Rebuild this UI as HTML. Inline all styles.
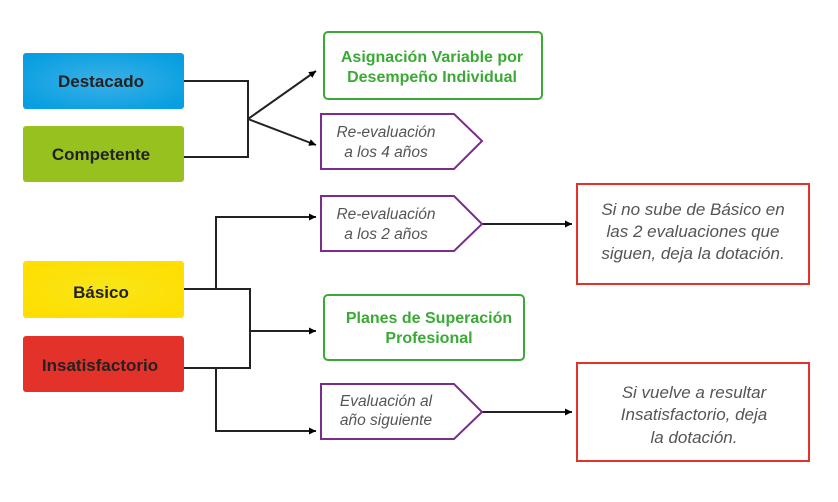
<!DOCTYPE html>
<html><head><meta charset="utf-8"><style>
html,body{margin:0;padding:0;background:#fff;}
svg{display:block;}
text{font-family:"Liberation Sans",sans-serif;}
.lab{font-weight:bold;font-size:17px;fill:#222;text-anchor:middle;}
.grn{font-weight:bold;font-size:16px;fill:#3aaa35;text-anchor:middle;}
.it{font-style:italic;font-size:15.5px;fill:#555;text-anchor:middle;}
.it2{font-style:italic;font-size:17px;fill:#555;text-anchor:middle;}
</style></head><body>
<svg width="838" height="502" viewBox="0 0 838 502" xmlns="http://www.w3.org/2000/svg">
<defs>
<radialGradient id="gb" cx="0.5" cy="0.5" r="0.6"><stop offset="0" stop-color="#3cb0e6"/><stop offset="1" stop-color="#079fe2"/></radialGradient>
<radialGradient id="gy" cx="0.5" cy="0.5" r="0.6"><stop offset="0" stop-color="#f7e61a"/><stop offset="1" stop-color="#ffde00"/></radialGradient>
<marker id="ar" markerWidth="8" markerHeight="8" refX="7" refY="4" orient="auto" markerUnits="userSpaceOnUse"><path d="M0,0.5 L7,4 L0,7.5 Z" fill="#000"/></marker>
</defs>
<rect x="23" y="53" width="161" height="56" rx="3" fill="url(#gb)"/>
<text class="lab" x="101" y="87">Destacado</text>
<rect x="23" y="126" width="161" height="56" rx="3" fill="#97c11f"/>
<text class="lab" x="101" y="160">Competente</text>
<rect x="23" y="261" width="161" height="57" rx="3" fill="url(#gy)"/>
<text class="lab" x="101" y="298">Básico</text>
<rect x="23" y="336" width="161" height="56" rx="3" fill="#e3322a"/>
<text class="lab" x="100" y="371">Insatisfactorio</text>

<g stroke="#222" stroke-width="2" fill="none">
<polyline points="184,81 248,81 248,157 184,157"/>
<line x1="248" y1="119" x2="316" y2="71" marker-end="url(#ar)"/>
<line x1="248" y1="119" x2="316" y2="145" marker-end="url(#ar)"/>
<polyline points="184,289 250,289 250,368 184,368"/>
<line x1="250" y1="331" x2="316" y2="331" marker-end="url(#ar)"/>
<polyline points="216,289 216,217 316,217" marker-end="url(#ar)"/>
<polyline points="216,368 216,431 316,431" marker-end="url(#ar)"/>
<line x1="482" y1="224" x2="572" y2="224" marker-end="url(#ar)"/>
<line x1="482" y1="412" x2="572" y2="412" marker-end="url(#ar)"/>
</g>

<rect x="324" y="32" width="218" height="67" rx="4" fill="#fff" stroke="#3aaa35" stroke-width="2"/>
<text class="grn" x="432" y="62">Asignación Variable por</text>
<text class="grn" x="432" y="82">Desempeño Individual</text>
<rect x="324" y="295" width="200" height="65" rx="4" fill="#fff" stroke="#3aaa35" stroke-width="2"/>
<text class="grn" x="429" y="323">Planes de Superación</text>
<text class="grn" x="429" y="343">Profesional</text>

<g fill="#fff" stroke="#7b2d8e" stroke-width="2">
<polygon points="321,114 454,114 482,141 454,169 321,169"/>
<polygon points="321,196 454,196 482,224 454,251 321,251"/>
<polygon points="321,384 454,384 482,412 454,439 321,439"/>
</g>
<text class="it" x="386" y="137">Re-evaluación</text>
<text class="it" x="386" y="157">a los 4 años</text>
<text class="it" x="386" y="219">Re-evaluación</text>
<text class="it" x="386" y="239">a los 2 años</text>
<text class="it" x="386" y="406">Evaluación al</text>
<text class="it" x="386" y="425">año siguiente</text>

<rect x="577" y="184" width="232" height="100" fill="#fff" stroke="#e3322a" stroke-width="2"/>
<text class="it2" x="693" y="215">Si no sube de Básico en</text>
<text class="it2" x="693" y="237">las 2 evaluaciones que</text>
<text class="it2" x="693" y="259">siguen, deja la dotación.</text>
<rect x="577" y="363" width="232" height="98" fill="#fff" stroke="#e3322a" stroke-width="2"/>
<text class="it2" x="694" y="398">Si vuelve a resultar</text>
<text class="it2" x="694" y="420">Insatisfactorio, deja</text>
<text class="it2" x="694" y="443">la dotación.</text>
</svg>
</body></html>
